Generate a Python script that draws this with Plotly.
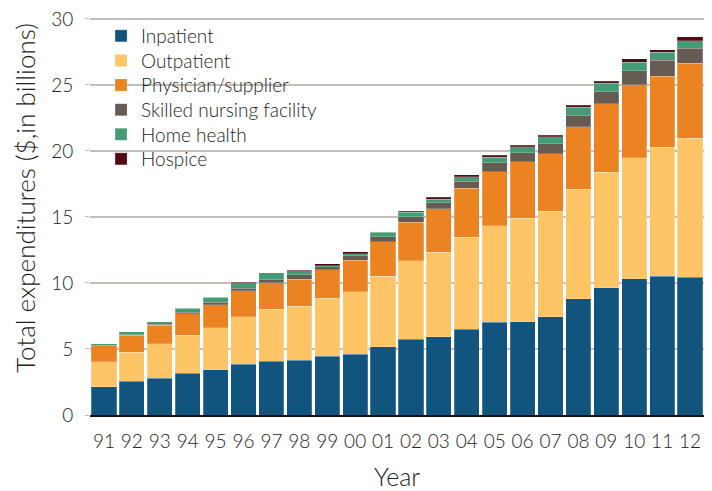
import plotly.graph_objects as go

years = ["91","92","93","94","95","96","97","98","99","00","01","02","03","04","05","06","07","08","09","10","11","12"]

inpatient = [2.15, 2.55, 2.80, 3.18, 3.41, 3.84, 4.09, 4.14, 4.44, 4.62, 5.18, 5.73, 5.91, 6.49, 7.02, 7.07, 7.45, 8.79, 9.65, 10.33, 10.51, 10.43]
outpatient = [1.89, 2.22, 2.58, 2.88, 3.21, 3.61, 3.91, 4.09, 4.40, 4.72, 5.33, 5.94, 6.41, 6.99, 7.32, 7.83, 8.00, 8.31, 8.74, 9.16, 9.77, 10.55]
physician = [1.21, 1.27, 1.41, 1.62, 1.74, 1.97, 2.00, 2.07, 2.17, 2.38, 2.62, 2.93, 3.31, 3.69, 4.09, 4.29, 4.35, 4.74, 5.17, 5.53, 5.38, 5.66]
snf = [0.03, 0.05, 0.07, 0.12, 0.20, 0.18, 0.28, 0.31, 0.23, 0.33, 0.38, 0.43, 0.43, 0.53, 0.66, 0.66, 0.73, 0.86, 0.94, 1.04, 1.21, 1.16]
home_health = [0.11, 0.20, 0.19, 0.28, 0.35, 0.43, 0.48, 0.32, 0.07, 0.17, 0.35, 0.32, 0.30, 0.35, 0.43, 0.48, 0.53, 0.61, 0.63, 0.68, 0.61, 0.56]
hospice = [0.0, 0.01, 0.01, 0.01, 0.01, 0.01, 0.02, 0.02, 0.13, 0.13, 0.02, 0.10, 0.13, 0.15, 0.15, 0.12, 0.13, 0.17, 0.15, 0.25, 0.20, 0.28]

series = [
    ("Inpatient", inpatient, "#11557F"),
    ("Outpatient", outpatient, "#FEC566"),
    ("Physician/supplier", physician, "#EC8322"),
    ("Skilled nursing facility", snf, "#665B52"),
    ("Home health", home_health, "#459B75"),
    ("Hospice", hospice, "#520A16"),
]

FONT = "Lato"
W = 300
fig = go.Figure()
legend_layout = {}
for i, (name, vals, color) in enumerate(series):
    lg = "legend" if i == 0 else f"legend{i + 1}"
    fig.add_trace(go.Bar(
        x=years, y=vals, name=name, legend=lg,
        marker=dict(color=color, line=dict(color="rgba(255,255,255,0.35)", width=0.6)),
    ))
    legend_layout[lg] = dict(
        x=0.018, y=0.995 - i * 0.0615, xanchor="left", yanchor="top",
        bgcolor="rgba(0,0,0,0)", borderwidth=0,
        font=dict(family=FONT, size=19, color="#222222", weight=W),
        itemwidth=30,
    )

fig.update_layout(
    barmode="stack",
    bargap=0.1,
    width=712, height=491,
    margin=dict(l=90, r=8, t=15, b=76),
    paper_bgcolor="white",
    plot_bgcolor="white",
    font=dict(family=FONT, size=18, color="#222222", weight=W),
    showlegend=True,
    xaxis=dict(
        automargin=False,
        title=dict(text="Year", font=dict(family=FONT, size=25, weight=W), standoff=27),
        showgrid=False,
        showline=True, linecolor="#111111", linewidth=1.5,
        ticks="", ticklabelstandoff=8,
        tickfont=dict(family=FONT, size=19, weight=W),
    ),
    yaxis=dict(
        automargin=False,
        range=[0, 30.30],
        tickvals=[0, 5, 10, 15, 20, 25, 30],
        showgrid=True, gridcolor="#C4BEB8", gridwidth=1.5,
        zeroline=False,
        ticks="outside", ticklen=4, tickcolor="#BBBBBB", tickwidth=1,
        ticklabelstandoff=8,
        tickfont=dict(family=FONT, size=19, weight=W),
    ),
    annotations=[dict(
        text="Total expenditures ($,in billions)",
        xref="paper", yref="paper",
        x=-0.1059, y=0.543, xanchor="center", yanchor="middle",
        textangle=-90, showarrow=False,
        font=dict(family=FONT, size=26, color="#222222", weight=W),
    )],
    **legend_layout,
)

fig.write_html(
    "out.html",
    config={"displayModeBar": False},
    post_script="document.body.style.margin='0';document.body.style.padding='0';",
)
